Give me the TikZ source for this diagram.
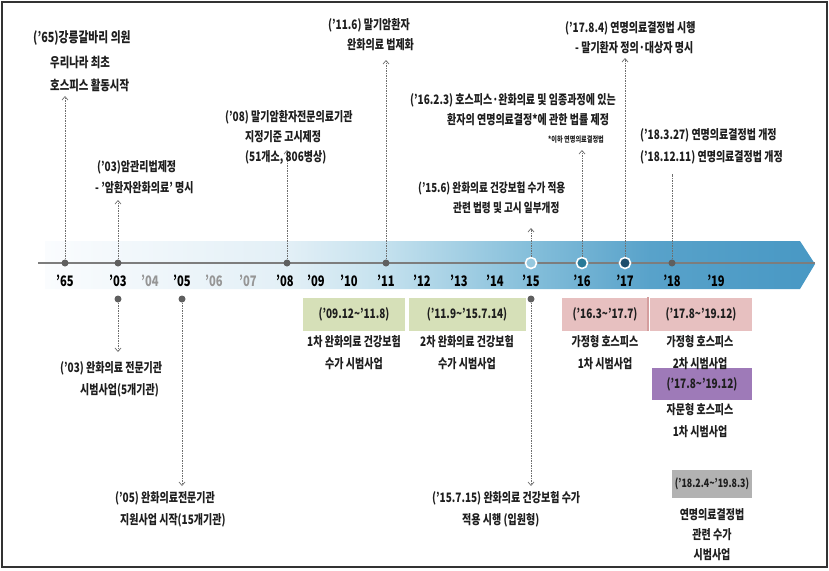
\documentclass[tikz,border=0pt]{standalone}
\usepackage{fontspec}
\setmainfont{Noto Sans CJK KR}[FakeStretch=0.77]
\usetikzlibrary{arrows.meta}
\definecolor{tlA}{RGB}{250,252,254}
\definecolor{tlB}{RGB}{226,239,246}
\definecolor{tlC}{RGB}{196,225,238}
\definecolor{tlD}{RGB}{132,190,218}
\definecolor{tlE}{RGB}{88,162,202}
\definecolor{tlF}{RGB}{72,152,196}
\definecolor{greenbox}{RGB}{214,224,184}
\definecolor{pinkbox}{RGB}{231,192,192}
\definecolor{pinkline}{RGB}{212,158,158}
\definecolor{purplebox}{RGB}{158,122,184}
\definecolor{graybox}{RGB}{178,178,178}
\definecolor{dotc}{RGB}{95,95,95}
\definecolor{arrc}{RGB}{110,110,110}
\definecolor{linec}{RGB}{125,125,125}
\definecolor{c16}{RGB}{42,122,152}
\definecolor{c17}{RGB}{30,78,108}
\definecolor{c15}{RGB}{150,200,222}
\definecolor{yrgray}{RGB}{150,150,150}
\definecolor{txtc}{RGB}{30,30,30}
\pgfdeclarehorizontalshading{tlshade}{100bp}{color(0bp)=(tlA); color(25bp)=(tlA); color(40.9bp)=(tlB); color(47.1bp)=(tlC); color(56.6bp)=(tlD); color(64.3bp)=(tlE); color(75bp)=(tlF); color(100bp)=(tlF)}
\begin{document}
\begin{tikzpicture}[x=1pt,y=-1pt,
  txt/.style={font=\bfseries\fontsize{13}{14}\selectfont, text=txtc, inner sep=0pt, anchor=west},
  ctxt/.style={font=\bfseries\fontsize{13}{14}\selectfont, text=txtc, inner sep=0pt},
  yr/.style={font=\bfseries\fontsize{14.5}{15}\selectfont, inner sep=0pt},
  dotn/.style={circle, fill=dotc, inner sep=0pt, minimum size=7pt},
  ringn/.style={circle, draw=white, line width=1.6pt, inner sep=0pt, minimum size=11pt},
  darr/.style={draw=arrc, dash pattern=on 1.5pt off 1pt, line width=0.7pt, -{Straight Barb[length=3.5pt,width=6pt]}},
  boxn/.style={inner sep=0pt, text=txtc, font=\bfseries\fontsize{13}{14}\selectfont}
]
\useasboundingbox (0,0) rectangle (829,570);
\draw[line width=1.2pt, black!80] (2,2) rectangle (827,567);

% timeline band
\shade[shading=tlshade] (45,241) -- (800,241) -- (815,264) -- (800,289) -- (45,289) -- cycle;
\draw[linec, line width=1.3pt] (38,263) -- (815,263);

% year labels
\node[yr] (y65) at (65,281) {'65};
\node[yr] (y03) at (118,281) {'03};
\node[yr, yrgray] (y04) at (150,281) {'04};
\node[yr] (y05) at (182,281) {'05};
\node[yr, yrgray] (y06) at (214,281) {'06};
\node[yr, yrgray] (y07) at (248,281) {'07};
\node[yr] (y08) at (285,281) {'08};
\node[yr] (y09) at (316,281) {'09};
\node[yr] (y10) at (349,281) {'10};
\node[yr] (y11) at (386,281) {'11};
\node[yr] (y12) at (422,281) {'12};
\node[yr] (y13) at (459,281) {'13};
\node[yr] (y14) at (495,281) {'14};
\node[yr] (y15) at (531,281) {'15};
\node[yr] (y16) at (582,281) {'16};
\node[yr] (y17) at (625,281) {'17};
\node[yr] (y18) at (672,281) {'18};
\node[yr] (y19) at (716,281) {'19};

% dots on line
\node[dotn] (d65) at (65,263) {};
\node[dotn] (d03) at (118,263) {};
\node[dotn] (d08) at (287,263) {};
\node[dotn] (d11) at (386,263) {};
\node[ringn, fill=c15] (d15) at (531,263) {};
\node[ringn, fill=c16] (d16) at (582,263) {};
\node[ringn, fill=c17] (d17) at (625,263) {};
\node[dotn] (d18) at (672,263) {};
\node[dotn] (e03) at (118,299) {};
\node[dotn] (e05) at (182,299) {};
\node[dotn] (e15) at (531,299) {};

% arrow tips
\coordinate (a65) at (65,96);
\coordinate (a03) at (118,200);
\coordinate (a08) at (287,150);
\coordinate (a11) at (386,60);
\coordinate (a15) at (531,228);
\coordinate (a16) at (582,150);
\coordinate (a17) at (625,58);
\coordinate (a18) at (672,174);
\coordinate (b03) at (118,352);
\coordinate (b05) at (182,486);
\coordinate (b15) at (531,486);

\draw[darr] (d65) -- (a65);
\draw[darr] (d03) -- (a03);
\draw[darr] (d08) -- (a08);
\draw[darr] (d11) -- (a11);
\draw[darr] (d15) -- (a15);
\draw[darr] (d16) -- (a16);
\draw[darr] (d17) -- (a17);
\draw[draw=arrc, dash pattern=on 1.5pt off 1pt, line width=0.7pt] (d18) -- (a18);
\draw[darr] (e03) -- (b03);
\draw[darr] (e05) -- (b05);
\draw[darr] (e15) -- (b15);

% upper texts
\node[txt, font=\bfseries\fontsize{14}{15}\selectfont] (t65a) at (33,38) {('65)강릉갈바리 의원};
\node[txt, font=\bfseries\fontsize{13.5}{15}\selectfont] (t65b) at (50,62) {우리나라 최초};
\node[txt, font=\bfseries\fontsize{13.5}{15}\selectfont] (t65c) at (50,85) {호스피스 활동시작};

\node[txt] (t03a) at (97,167) {('03)암관리법제정};
\node[txt] (t03b) at (95,188) {- '암환자완화의료' 명시};

\node[txt] (t08a) at (225,117) {('08) 말기암환자전문의료기관};
\node[txt] (t08b) at (245,137) {지정기준 고시제정};
\node[txt] (t08c) at (245,157) {(51개소, 806병상)};

\node[txt] (t11a) at (328,25) {('11.6) 말기암환자};
\node[txt] (t11b) at (347,45) {완화의료 법제화};

\node[txt] (t16a) at (410,100) {('16.2.3) 호스피스·완화의료 및 임종과정에 있는};
\node[txt] (t16b) at (447,120) {환자의 연명의료결정*에 관한 법률 제정};
\node[txt, font=\bfseries\fontsize{8}{9}\selectfont] (t16c) at (548,140) {*이하 연명의료결정법};

\node[txt, font=\bfseries\fontsize{12.5}{14}\selectfont] (t15a) at (418,188) {('15.6) 완화의료 건강보험 수가 적용};
\node[txt, font=\bfseries\fontsize{12.5}{14}\selectfont] (t15b) at (453,208) {관련 법령 및 고시 일부개정};

\node[txt] (t17a) at (565,28) {('17.8.4) 연명의료결정법 시행};
\node[txt] (t17b) at (575,48) {- 말기환자 정의·대상자 명시};

\node[txt] (t18a) at (640,135) {('18.3.27) 연명의료결정법 개정};
\node[txt] (t18b) at (640,157) {('18.12.11) 연명의료결정법 개정};

% lower texts
\node[txt] (u03a) at (60,368) {('03) 완화의료 전문기관};
\node[txt] (u03b) at (80,390) {시범사업(5개기관)};
\node[txt] (u05a) at (115,498) {('05) 완화의료전문기관};
\node[txt] (u05b) at (120,520) {지원사업 시작(15개기관)};
\node[txt] (u15a) at (432,498) {('15.7.15) 완화의료 건강보험 수가};
\node[txt] (u15b) at (462,520) {적용 시행 (입원형)};

% boxes
\node[boxn, fill=greenbox, minimum width=102pt, minimum height=33pt] (g1) at (354,314) {('09.12\textasciitilde'11.8)};
\node[boxn, fill=greenbox, minimum width=117pt, minimum height=33pt] (g2) at (467,314) {('11.9\textasciitilde'15.7.14)};
\node[boxn, fill=pinkbox, minimum width=86pt, minimum height=33pt] (p1) at (605,314) {('16.3\textasciitilde'17.7)};
\node[boxn, fill=pinkbox, minimum width=102pt, minimum height=33pt] (p2) at (701,314) {('17.8\textasciitilde'19.12)};
\draw[pinkline, line width=2pt] (p1.north east) -- (p1.south east);
\node[boxn, fill=purplebox, minimum width=100pt, minimum height=32pt] (pu) at (702,384) {('17.8\textasciitilde'19.12)};
\node[boxn, fill=graybox, minimum width=80pt, minimum height=28pt, font=\bfseries\fontsize{11.5}{13}\selectfont] (gr) at (712,484) {('18.2.4\textasciitilde'19.8.3)};

\node[ctxt] (g1a) at (354,342) {1차 완화의료 건강보험};
\node[ctxt] (g1b) at (354,364) {수가 시범사업};
\node[ctxt] (g2a) at (467,342) {2차 완화의료 건강보험};
\node[ctxt] (g2b) at (467,364) {수가 시범사업};
\node[ctxt] (p1a) at (605,342) {가정형 호스피스};
\node[ctxt] (p1b) at (605,364) {1차 시범사업};
\node[ctxt] (p2a) at (700,342) {가정형 호스피스};
\node[ctxt] (p2b) at (700,364) {2차 시범사업};
\node[ctxt] (pua) at (700,410) {자문형 호스피스};
\node[ctxt] (pub) at (700,432) {1차 시범사업};
\node[ctxt] (gra) at (712,515) {연명의료결정법};
\node[ctxt] (grb) at (712,535) {관련 수가};
\node[ctxt] (grc) at (712,555) {시범사업};
\end{tikzpicture}
\end{document}
